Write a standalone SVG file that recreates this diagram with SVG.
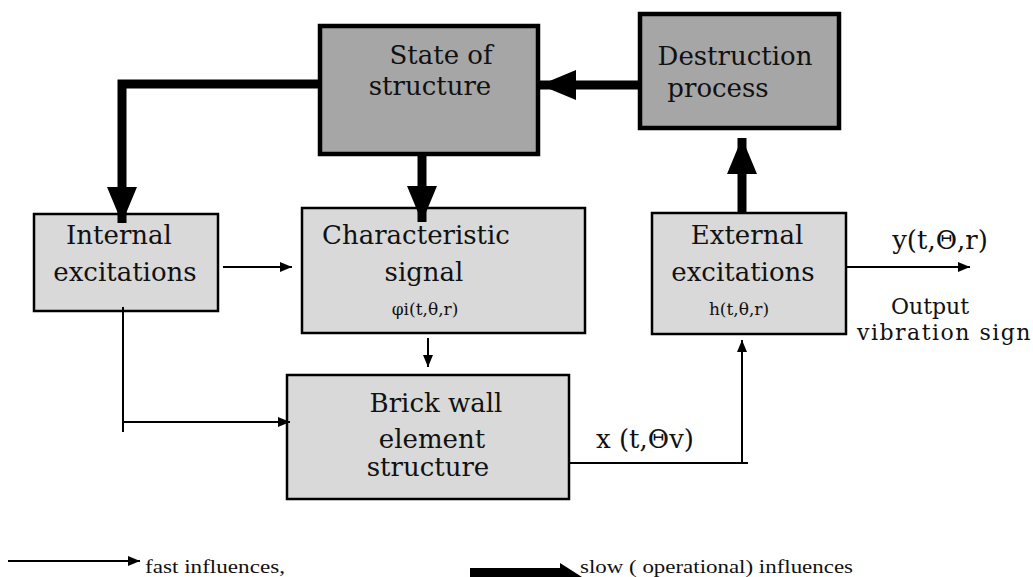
<svg xmlns="http://www.w3.org/2000/svg" width="1033" height="577" viewBox="0 0 1033 577">
<defs>
<style>
.dark{fill:#a6a6a6;stroke:#000;stroke-width:4.5}
.light{fill:#d9d9d9;stroke:#000;stroke-width:2.5}
.t{font-family:"DejaVu Serif","Liberation Serif",serif;font-size:26px;fill:#111;text-anchor:middle}
.s{font-family:"DejaVu Serif","Liberation Serif",serif;font-size:17px;fill:#111;text-anchor:middle}
.l{font-family:"Liberation Serif",serif;font-size:19px;fill:#111}
.thick{fill:none;stroke:#000;stroke-width:9}
.thin{fill:none;stroke:#000;stroke-width:2}
</style>
<marker id="bh" markerUnits="userSpaceOnUse" markerWidth="40" markerHeight="32" refX="36" refY="15" orient="auto"><path d="M0,0 L36,15 L0,30 Z" fill="#000"/></marker>
<marker id="th" markerUnits="userSpaceOnUse" markerWidth="14" markerHeight="12" refX="12" refY="5" orient="auto"><path d="M0,0 L12,5 L0,10 Z" fill="#000"/></marker>
</defs>
<rect width="1033" height="577" fill="#fff"/>
<g id="state">
<rect class="dark" x="320" y="26" width="218" height="128"/>
<text class="t" x="441" y="64">State of</text>
<text class="t" x="430" y="95">structure</text>
</g>
<g id="destruction">
<rect class="dark" x="640" y="14" width="199" height="114"/>
<text class="t" x="735" y="65">Destruction</text>
<text class="t" x="718" y="97">process</text>
</g>
<g id="internal">
<rect class="light" x="34" y="214" width="184" height="97"/>
<text class="t" x="119" y="244">Internal</text>
<text class="t" x="125" y="281">excitations</text>
</g>
<g id="characteristic">
<rect class="light" x="302" y="208" width="283" height="125"/>
<text class="t" x="416" y="244">Characteristic</text>
<text class="t" x="424" y="281">signal</text>
<text class="s" x="425" y="315">φi(t,θ,r)</text>
</g>
<g id="brick">
<rect class="light" x="287" y="375" width="282" height="124"/>
<text class="t" x="436" y="412">Brick wall</text>
<text class="t" x="432" y="448">element</text>
<text class="t" x="428" y="476">structure</text>
</g>
<g id="external">
<rect class="light" x="652" y="213" width="194" height="121"/>
<text class="t" x="747" y="244">External</text>
<text class="t" x="743" y="281">excitations</text>
<text class="s" x="739" y="315">h(t,θ,r)</text>
</g>
<g id="connectors">
<path class="thick" d="M638,85 H540" marker-end="url(#bh)"/>
<path class="thick" d="M322,84 H122 V223" marker-end="url(#bh)"/>
<path class="thick" d="M422,156 V222" marker-end="url(#bh)"/>
<path class="thick" d="M742,213 V138" marker-end="url(#bh)"/>
<path class="thin" d="M223,267 H292" marker-end="url(#th)"/>
<path class="thin" d="M428,338 V367" marker-end="url(#th)"/>
<path class="thin" d="M123,307 V432"/>
<path class="thin" d="M123,422 H290" marker-end="url(#th)"/>
<path class="thin" d="M569,463 H748"/>
<path class="thin" d="M742,463 V340" marker-end="url(#th)"/>
<path class="thin" d="M846,267 H970" marker-end="url(#th)"/>
<text class="t" x="645" y="448">x (t,Θv)</text>
<text class="t" x="940" y="249">y(t,Θ,r)</text>
<text class="t" x="930" y="314" style="font-size:22px">Output</text>
<text class="t" x="857" y="340" style="font-size:22px;text-anchor:start;letter-spacing:1.5px">vibration sign</text>
</g>
<g id="legend">
<path class="thin" d="M8,561 H140" marker-end="url(#th)"/>
<text class="l" x="145" y="573" textLength="140" lengthAdjust="spacingAndGlyphs">fast influences,</text>
<path d="M470,568 H562 V577 H470 Z" fill="#000"/>
<path d="M560,563 L582,577 L560,577 Z" fill="#000"/>
<text class="l" x="580" y="573" textLength="273" lengthAdjust="spacingAndGlyphs">slow ( operational) influences</text>
</g>
</svg>
